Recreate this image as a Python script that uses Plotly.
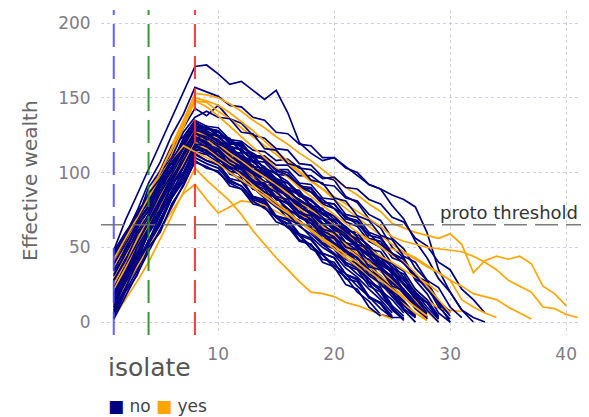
import plotly.graph_objects as go

# ---- data: effective wealth per agent, indexed from isolate = 1 ----
# "no" agents (navy)
n01 = [48, 68, 85, 102, 119, 136, 154, 171, 172, 166, 159, 161, 155, 149, 155, 140, 120, 113, 108, 110, 104, 98, 92, 89, 85, 82, 77, 60, 35, 20, 8, 3, 0]
n02 = [40, 58, 74, 93, 107, 125, 139, 157, 154, 151, 145, 144, 137, 135, 127, 126, 119, 118, 110, 110, 103, 100, 92, 89, 78, 69, 54, 43, 29, 20, 8, 0]
n03 = [30, 47, 68, 82, 101, 113, 130, 143, 138, 145, 136, 133, 125, 123, 116, 115, 106, 105, 97, 95, 84, 80, 69, 63, 50, 43, 28, 19, 6, 0]
n04 = [35, 54, 68, 90, 101, 118, 124, 135, 131, 130, 122, 121, 115, 114, 108, 109, 103, 102, 96, 97, 90, 89, 82, 79, 70, 67, 56, 51, 40, 35, 22, 15, 6]
n05 = [25, 40, 62, 76, 97, 106, 122, 131, 130, 128, 120, 119, 111, 111, 105, 105, 98, 98, 92, 91, 83, 81, 72, 68, 56, 49, 36, 28, 12, 0]
n06 = [12, 27, 46, 60, 78, 94, 111, 128, 124, 117, 114, 105, 100, 94, 92, 84, 77, 73, 64, 59, 53, 45, 42, 35, 26, 20, 12, 4]
n07 = [22, 38, 51, 70, 84, 102, 115, 132, 126, 124, 116, 111, 104, 101, 95, 86, 82, 77, 69, 63, 60, 51, 44, 39, 33, 25, 16, 8, 0]
n08 = [8, 22, 41, 54, 72, 85, 104, 118, 117, 109, 103, 99, 89, 86, 79, 74, 66, 64, 55, 49, 43, 36, 29, 21, 15, 6]
n09 = [45, 57, 69, 84, 93, 107, 115, 127, 121, 119, 111, 106, 99, 97, 89, 84, 76, 74, 65, 60, 53, 48, 40, 34, 27, 19, 10, 2]
n10 = [30, 45, 56, 72, 83, 99, 110, 124, 120, 118, 109, 104, 98, 91, 88, 80, 74, 71, 62, 56, 51, 43, 37, 31, 22, 14, 5]
n11 = [15, 32, 44, 62, 75, 93, 105, 121, 115, 112, 103, 98, 90, 84, 78, 69, 65, 57, 50, 45, 36, 30, 22, 15, 6]
n12 = [38, 50, 67, 78, 94, 104, 119, 129, 131, 124, 122, 114, 110, 103, 99, 94, 86, 82, 75, 71, 63, 58, 51, 43, 39, 30, 20, 13, 3]
n13 = [5, 21, 34, 52, 65, 83, 96, 112, 108, 105, 95, 91, 82, 79, 70, 65, 58, 49, 45, 36, 30, 20, 14, 5, 3, 3]
n14 = [26, 37, 54, 64, 80, 90, 105, 116, 113, 110, 101, 99, 89, 86, 80, 72, 68, 61, 53, 50, 40, 36, 27, 21, 10, 2]
n15 = [18, 35, 47, 66, 78, 97, 109, 126, 121, 120, 111, 107, 100, 97, 88, 85, 77, 72, 66, 58, 53, 44, 40, 30, 24, 13, 4]
n16 = [34, 44, 60, 69, 85, 93, 109, 119, 119, 112, 110, 103, 101, 92, 91, 83, 80, 72, 69, 61, 58, 49, 46, 35, 31, 19, 12, 2]
n17 = [10, 26, 37, 55, 66, 83, 94, 110, 106, 103, 94, 91, 83, 80, 71, 68, 58, 55, 46, 43, 32, 28, 17, 12, 2]
n18 = [42, 53, 70, 80, 97, 106, 123, 134, 129, 128, 120, 118, 111, 109, 101, 98, 90, 87, 79, 76, 67, 64, 54, 50, 39, 34, 22, 15, 4]
n19 = [28, 44, 53, 71, 80, 98, 107, 122, 121, 113, 110, 102, 105, 92, 88, 79, 76, 68, 64, 55, 52, 42, 38, 28, 23, 12, 5]
n20 = [14, 29, 49, 62, 82, 95, 115, 129, 124, 122, 113, 111, 101, 99, 90, 88, 78, 76, 66, 64, 53, 51, 40, 37, 26, 22, 9, 2]
n21 = [48, 58, 73, 81, 96, 102, 117, 125, 120, 119, 109, 106, 96, 93, 83, 80, 70, 67, 56, 53, 42, 39, 27, 23, 11, 4]
n22 = [6, 24, 36, 55, 67, 86, 98, 115, 115, 108, 106, 97, 95, 86, 84, 74, 73, 63, 61, 51, 48, 38, 35, 24, 21, 9, 3]
n23 = [24, 36, 55, 65, 84, 95, 114, 127, 131, 125, 123, 114, 112, 102, 100, 90, 88, 78, 76, 65, 63, 52, 49, 38, 34, 21, 15, 3]
n24 = [36, 49, 56, 71, 78, 93, 100, 113, 108, 106, 96, 94, 84, 82, 71, 69, 59, 56, 46, 43, 32, 29, 17, 13, 3]
n25 = [20, 34, 53, 65, 84, 96, 118, 133, 129, 128, 120, 120, 111, 111, 102, 102, 93, 92, 83, 82, 72, 70, 60, 57, 46, 42, 29, 24, 10, 2]
n26 = [11, 29, 41, 61, 73, 93, 105, 124, 118, 115, 105, 102, 92, 89, 79, 76, 66, 63, 52, 49, 38, 35, 24, 20, 8, 2]
n27 = [32, 42, 59, 67, 83, 92, 108, 118, 115, 113, 104, 102, 93, 91, 82, 80, 70, 68, 59, 57, 47, 44, 34, 31, 19, 14, 3]
n28 = [40, 51, 67, 76, 92, 101, 117, 128, 123, 122, 114, 113, 104, 103, 94, 93, 84, 82, 73, 71, 61, 60, 49, 47, 36, 32, 19, 13, 2]
n29 = [17, 34, 44, 63, 74, 92, 103, 120, 114, 111, 99, 96, 84, 81, 70, 66, 55, 52, 40, 37, 25, 22, 10, 4]
n30 = [44, 55, 73, 82, 100, 110, 127, 137, 141, 137, 136, 127, 126, 116, 115, 106, 104, 95, 93, 83, 81, 71, 68, 58, 55, 44, 40, 28, 23, 10, 3]
n31 = [27, 42, 52, 70, 81, 99, 110, 126, 123, 128, 119, 119, 110, 110, 102, 100, 91, 90, 80, 79, 69, 67, 56, 54, 43, 40, 29, 25, 13, 6]
n32 = [3, 20, 31, 50, 60, 79, 91, 108, 103, 101, 91, 89, 79, 77, 67, 64, 54, 52, 42, 40, 29, 27, 16, 13, 4]
n33 = [46, 57, 74, 83, 99, 106, 120, 129, 125, 125, 116, 116, 108, 107, 99, 98, 90, 89, 80, 79, 70, 68, 58, 56, 45, 42, 31, 27, 14, 7]
n34 = [9, 27, 40, 60, 72, 92, 104, 122, 117, 115, 105, 104, 94, 92, 82, 80, 70, 68, 58, 56, 45, 43, 32, 29, 17, 13, 3]
n35 = [23, 35, 53, 63, 81, 90, 108, 120, 116, 114, 105, 103, 94, 93, 84, 82, 73, 71, 62, 60, 50, 48, 37, 35, 24, 21, 9, 3]
n36 = [37, 48, 65, 74, 91, 99, 116, 127, 122, 122, 112, 111, 102, 101, 91, 90, 80, 79, 69, 68, 58, 56, 46, 43, 32, 29, 17, 13, 2]
n37 = [19, 33, 50, 63, 79, 93, 108, 123, 125, 118, 114, 108, 101, 97, 90, 87, 79, 73, 70, 62, 57, 50, 44, 36, 29, 21, 11, 3]
n38 = [31, 46, 60, 72, 88, 100, 113, 130, 127, 120, 117, 111, 108, 100, 95, 89, 86, 78, 72, 68, 60, 55, 47, 40, 34, 25, 16, 6]
n39 = [13, 30, 43, 59, 72, 88, 100, 117, 115, 109, 104, 100, 93, 87, 83, 76, 70, 66, 58, 52, 47, 39, 31, 26, 17, 8, 0]
n40 = [39, 52, 66, 77, 92, 103, 118, 128, 126, 121, 115, 111, 104, 98, 94, 86, 82, 75, 69, 65, 56, 51, 44, 36, 30, 21, 12, 3]
n41 = [7, 23, 39, 52, 69, 83, 99, 114, 112, 107, 101, 94, 90, 83, 77, 72, 64, 59, 52, 46, 39, 32, 26, 17, 9, 1]
n42 = [42, 56, 68, 82, 94, 107, 117, 131, 128, 124, 118, 115, 108, 104, 96, 93, 86, 81, 75, 69, 64, 57, 51, 43, 37, 28, 20, 10, 2]
n43 = [24, 40, 54, 67, 83, 95, 111, 124, 119, 116, 108, 104, 99, 91, 87, 80, 73, 69, 61, 57, 48, 43, 35, 28, 20, 11, 4]
n44 = [16, 32, 46, 62, 75, 92, 104, 119, 118, 112, 106, 102, 95, 90, 83, 79, 71, 66, 60, 53, 48, 40, 34, 25, 19, 8, 0]
n45 = [35, 48, 63, 75, 90, 101, 116, 126, 124, 119, 116, 109, 104, 99, 93, 88, 81, 77, 70, 64, 59, 51, 45, 37, 30, 22, 13, 5]
n46 = [28, 41, 58, 70, 86, 99, 113, 128, 127, 121, 118, 110, 107, 101, 96, 89, 85, 78, 73, 67, 61, 54, 49, 41, 35, 26, 18, 8, 0]
n47 = [2, 17, 32, 47, 61, 77, 91, 107, 104, 100, 93, 89, 81, 76, 70, 63, 58, 51, 45, 38, 32, 24, 17, 9, 3]
n48 = [47, 60, 71, 86, 96, 109, 120, 133, 130, 127, 122, 117, 113, 108, 102, 98, 92, 87, 82, 76, 71, 65, 59, 52, 46, 39, 31, 22, 13, 4]

# "yes" agents (orange)
y01 = [28, 45, 65, 85, 102, 118, 135, 153, 152, 150, 146, 141, 135, 130, 124, 119, 113, 108, 102, 96, 90, 85, 79, 74, 66, 63, 60, 58, 56, 59, 52, 33, 41, 44, 42, 44, 39, 24, 19, 11]
y02 = [20, 38, 58, 78, 96, 112, 130, 148, 147, 141, 136, 130, 124, 118, 112, 106, 100, 94, 89, 84, 79, 74, 69, 64, 57, 54, 52, 50, 49, 48, 47, 44, 40, 35, 28, 24, 20, 10, 9, 5, 3]
y03 = [33, 49, 66, 83, 100, 117, 133, 150, 148, 145, 140, 134, 128, 121, 114, 108, 101, 95, 89, 82, 76, 70, 64, 58, 52, 47, 43, 38, 33, 28, 24, 19, 17, 15, 10, 6, 2]
y04 = [15, 31, 48, 65, 82, 98, 114, 130, 128, 122, 117, 111, 105, 99, 93, 87, 81, 75, 70, 64, 58, 52, 46, 40, 34, 28, 22, 15, 9, 8, 7]
y05 = [3, 15, 27, 40, 55, 71, 87, 103, 95, 88, 81, 72, 61, 52, 43, 35, 27, 20, 19, 17, 13, 11, 8, 5, 2]
y06 = [12, 24, 37, 50, 62, 74, 86, 92, 82, 73, 77, 81, 80, 78, 74, 70, 67, 63, 61, 60, 59, 57, 55, 52, 49, 46, 42, 37, 33, 28, 15, 10, 6, 3]
y07 = [30, 44, 58, 72, 86, 99, 112, 125, 122, 116, 110, 104, 98, 93, 87, 81, 76, 70, 64, 58, 52, 46, 40, 34, 28, 21, 14, 7, 0]
y08 = [40, 52, 64, 76, 88, 99, 110, 121, 118, 113, 107, 102, 96, 90, 85, 79, 73, 67, 61, 55, 50, 44, 37, 31, 24, 17, 9, 1]
y09 = [22, 36, 50, 65, 79, 93, 106, 120, 116, 110, 105, 98, 92, 86, 80, 74, 67, 61, 55, 49, 43, 37, 31, 25, 18, 12, 6, 1]
y10 = [36, 52, 68, 84, 100, 116, 132, 148, 144, 138, 131, 124, 117, 110, 103, 97, 90, 84, 78, 72, 66, 60, 55, 50, 45, 40, 33, 24, 15, 6]
y11 = [25, 40, 55, 70, 85, 100, 115, 128, 124, 119, 113, 108, 102, 97, 92, 86, 81, 75, 70, 65, 59, 54, 49, 44, 40, 35, 30, 26, 20]
y12 = [42, 56, 70, 84, 97, 109, 118, 114, 110, 106, 100, 95, 90, 84, 78, 73, 67, 62, 56, 51, 45, 40, 34, 28, 22, 16, 10, 4]

no_series = [n01, n02, n03, n04, n05, n06, n07, n08, n09, n10, n11, n12, n13, n14, n15, n16,
             n17, n18, n19, n20, n21, n22, n23, n24, n25, n26, n27, n28, n29, n30, n31, n32,
             n33, n34, n35, n36, n37, n38, n39, n40, n41, n42, n43, n44, n45, n46, n47, n48]
yes_series = [y01, y02, y03, y04, y05, y06, y07, y08, y09, y10, y11, y12]
group_labels = ["no", "yes"]

phase_lines = [1, 4, 8]
phase_colors = ["rgba(70,70,255,0.85)", "rgba(34,139,34,0.9)", "rgba(255,40,40,0.9)"]
threshold = 65
x_ticks = [10, 20, 30, 40]
y_ticks = [0, 50, 100, 150, 200]

NAVY = "#000080"
ORANGE = "#FFA500"
FONT = "DejaVu Sans"

# page body has an 8px margin: figure is sized so that it fills the window
W, H = 581, 409
L, T, B = 93, 2, 82
PW, PH = W - L, H - T - B

fig = go.Figure()

order = []
yi = 0
for i, s in enumerate(no_series):
    order.append((s, NAVY, group_labels[0]))
    if i % 4 == 2 and yi < len(yes_series):
        order.append((yes_series[yi], ORANGE, group_labels[1]))
        yi += 1
while yi < len(yes_series):
    order.append((yes_series[yi], ORANGE, group_labels[1]))
    yi += 1

for s, c, g in order:
    fig.add_trace(go.Scatter(
        x=list(range(1, len(s) + 1)), y=s, mode="lines", name=g, legendgroup=g,
        line=dict(color=c, width=1.7), showlegend=False, hoverinfo="skip"))

for xv, col in zip(phase_lines, phase_colors):
    fig.add_shape(type="line", xref="x", yref="paper", x0=xv, x1=xv, y0=0, y1=1,
                  line=dict(color=col, width=2, dash="23px,9px"))

fig.add_shape(type="line", xref="paper", yref="y", x0=0, x1=1, y0=threshold, y1=threshold,
              line=dict(color="rgba(110,110,110,0.9)", width=1.5, dash="23px,8px"))

fig.add_annotation(x=41.2, y=threshold, xref="x", yref="y", text="proto threshold",
                   showarrow=False, xanchor="right", yanchor="bottom",
                   font=dict(family=FONT, size=18, color="#333333"))

fig.add_annotation(x=5 / PW, y=-32 / PH, xref="paper", yref="paper",
                   text="isolate", showarrow=False, xanchor="left", yanchor="middle",
                   font=dict(family=FONT, size=25, color="#555555"))

fig.add_annotation(x=-71 / PW, y=154 / PH, xref="paper", yref="paper",
                   text="Effective wealth", showarrow=False, textangle=-90,
                   xanchor="center", yanchor="middle",
                   font=dict(family=FONT, size=20, color="#666666"))

# legend keys (square swatches + labels)
legend_text = (f'<span style="color:{NAVY}">■</span> {group_labels[0]} '
               f'<span style="color:{ORANGE}">■</span> {group_labels[1]}')
fig.add_annotation(x=5 / PW, y=-71 / PH, xref="paper", yref="paper",
                   text=legend_text, showarrow=False, xanchor="left", yanchor="middle",
                   font=dict(family=FONT, size=17, color="#444444"))

grid_col = "rgba(175,175,205,0.6)"
fig.update_layout(
    width=W, height=H,
    margin=dict(l=L, r=0, t=T, b=B, pad=0, autoexpand=False),
    paper_bgcolor="white", plot_bgcolor="white",
    font=dict(family=FONT, color="#7f7f7f"),
    showlegend=False,
    xaxis=dict(range=[-0.1, 41.97], tickvals=x_ticks, showgrid=True, gridcolor=grid_col,
               griddash="dot", gridwidth=1, zeroline=False, showline=False,
               ticks="outside", ticklen=4, tickcolor="rgba(0,0,0,0)",
               tickfont=dict(family=FONT, size=17, color="#837a86")),
    yaxis=dict(range=[-8.7, 208.8], tickvals=y_ticks, showgrid=True, gridcolor=grid_col,
               griddash="dot", gridwidth=1, zeroline=False, showline=False,
               ticks="outside", ticklen=6, tickcolor="rgba(0,0,0,0)",
               tickfont=dict(family=FONT, size=17, color="#837a86")),
)

fig.write_html("out.html")
